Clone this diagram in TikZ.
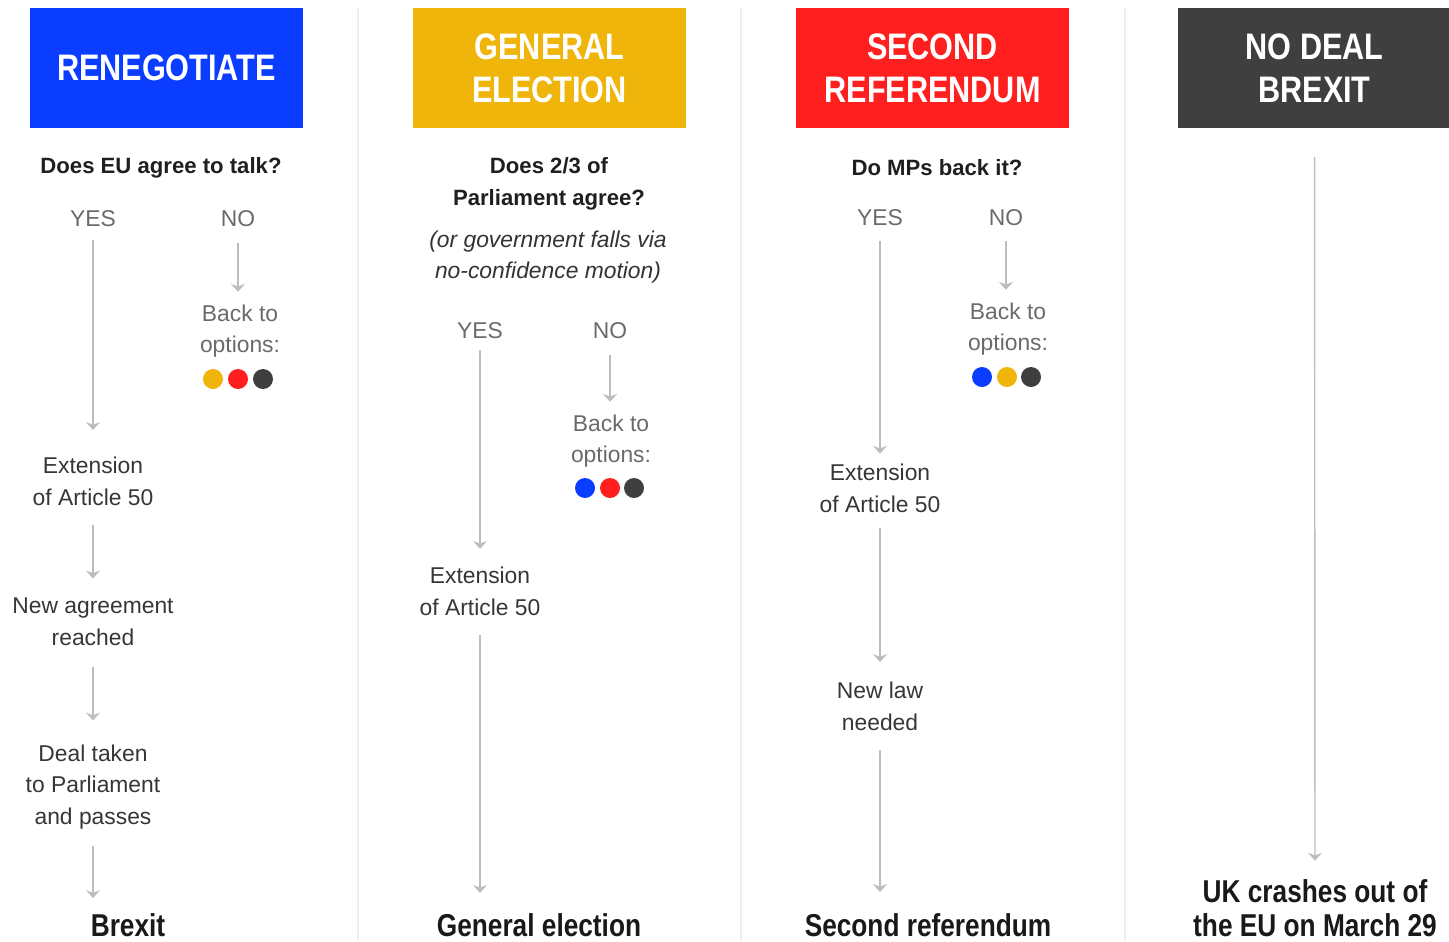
\documentclass[tikz,border=0pt]{standalone}
\usepackage{fontspec}
\setmainfont{Liberation Sans}
\newfontfamily\headfont{Liberation Sans}[FakeStretch=0.83]
\usetikzlibrary{arrows.meta}
\definecolor{cblue}{HTML}{0A3DFF}
\definecolor{cyellow}{HTML}{F0B50A}
\definecolor{cred}{HTML}{FF1F1F}
\definecolor{cdark}{HTML}{3F3F3F}
\definecolor{txtgrey}{HTML}{363636}
\definecolor{softgrey}{HTML}{6A6A6A}
\definecolor{arrgrey}{HTML}{BDBDBD}
\definecolor{sepgrey}{HTML}{EEEEEE}

\begin{document}
\begin{tikzpicture}[x=0.02cm, y=-0.02cm,
    head/.style={minimum width=5.46cm, minimum height=2.42cm, inner sep=0pt, text=white, align=center, font=\headfont\bfseries\fontsize{21}{24.4}\selectfont},
    quest/.style={inner sep=0pt, align=center, text=black!88, font=\bfseries\fontsize{12.6}{18.1}\selectfont},
    note/.style={inner sep=0pt, align=center, text=black!80, font=\itshape\fontsize{13}{18.1}\selectfont},
    answer/.style={inner sep=0pt, text=softgrey, font=\fontsize{13}{18.1}\selectfont},
    back/.style={inner sep=0pt, align=center, text=softgrey, font=\fontsize{13}{18.1}\selectfont},
    stage/.style={inner sep=0pt, align=center, text=txtgrey, font=\fontsize{13}{18.1}\selectfont},
    outcome/.style={inner sep=0pt, align=center, text=black!90, font=\headfont\bfseries\fontsize{18}{19.3}\selectfont},
    dot/.style={circle, inner sep=0pt, minimum size=0.4cm},
    arr/.style={draw=arrgrey, line width=0.8pt, -{Stealth[length=4.5pt,width=8pt,inset=1.5pt]}},
    sep/.style={draw=sepgrey, line width=1.6pt}]
    \useasboundingbox (0,0) rectangle (1449,941);
    \draw[sep] (358,8) -- (358,941);
    \draw[sep] (741,8) -- (741,941);
    \draw[sep] (1125,8) -- (1125,941);

    \node[head, fill=cblue] (hA) at (166.5,68) {RENEGOTIATE};
    \node[quest] (qA) at (161,168) {Does EU agree to talk?};
    \node[answer] (yesA) at (93,219) {YES};
    \node[answer] (noA) at (238,219) {NO};
    \node[back] (backA) at (240,331) {Back to\\options:};
    \node[dot, fill=cyellow] (dA1) at (213,379) {};
    \node[dot, fill=cred] (dA2) at (238,379) {};
    \node[dot, fill=cdark] (dA3) at (263,379) {};
    \node[stage] (extA) at (93,481) {Extension\\of Article 50};
    \node[stage] (agrA) at (93,622) {New agreement\\reached};
    \node[stage] (dealA) at (93,787) {Deal taken\\to Parliament\\and passes};
    \node[outcome] (brexA) at (128,925) {Brexit};
    \draw[arr, shorten <=7pt, shorten >=15pt] (yesA) -- (extA);
    \draw[arr, shorten <=9pt, shorten >=7pt] (noA.south) -- (noA.south |- backA.north);
    \draw[arr, shorten <=11pt, shorten >=11pt] (extA) -- (agrA);
    \draw[arr, shorten <=12pt, shorten >=13.5pt] (agrA) -- (dealA);
    \draw[arr, shorten <=9pt, shorten >=8.5pt] (dealA.south) -- (dealA.south |- brexA.north);

    \node[head, fill=cyellow] (hB) at (549.5,68) {GENERAL\\ELECTION};
    \node[quest] (qB) at (549,184) {Does 2/3 of\\Parliament agree?};
    \node[note] (itB) at (548,257) {(or government falls via\\no-confidence motion)};
    \node[answer] (yesB) at (480,331) {YES};
    \node[answer] (noB) at (610,331) {NO};
    \node[back] (backB) at (611,441) {Back to\\options:};
    \node[dot, fill=cblue] (dB1) at (585,488) {};
    \node[dot, fill=cred] (dB2) at (610,488) {};
    \node[dot, fill=cdark] (dB3) at (634,488) {};
    \node[stage] (extB) at (480,591) {Extension\\of Article 50};
    \node[outcome] (genB) at (539,925) {General election};
    \draw[arr, shorten <=6pt, shorten >=10pt] (yesB) -- (extB);
    \draw[arr, shorten <=9pt, shorten >=7pt] (noB.south) -- (noB.south |- backB.north);
    \draw[arr, shorten <=11pt, shorten >=11.5pt] (extB.south) -- (extB.south |- genB.north);

    \node[head, fill=cred] (hC) at (932.5,68) {SECOND\\REFERENDUM};
    \node[quest] (qC) at (937,168) {Do MPs back it?};
    \node[answer] (yesC) at (880,218) {YES};
    \node[answer] (noC) at (1006,218) {NO};
    \node[back] (backC) at (1008,329) {Back to\\options:};
    \node[dot, fill=cblue] (dC1) at (982,377) {};
    \node[dot, fill=cyellow] (dC2) at (1007,377) {};
    \node[dot, fill=cdark] (dC3) at (1031,377) {};
    \node[stage] (extC) at (880,488) {Extension\\of Article 50};
    \node[stage] (lawC) at (880,706) {New law\\needed};
    \node[outcome] (refC) at (928,925) {Second referendum};
    \draw[arr, shorten <=8pt, shorten >=5.5pt] (yesC) -- (extC);
    \draw[arr, shorten <=8pt, shorten >=7pt] (noC.south) -- (noC.south |- backC.north);
    \draw[arr, shorten <=9pt, shorten >=11pt] (extC) -- (lawC);
    \draw[arr, shorten <=11pt, shorten >=12pt] (lawC.south) -- (lawC.south |- refC.north);

    \node[head, fill=cdark] (hD) at (1314.5,68) {NO DEAL\\BREXIT};
    \node[outcome] (ukD) at (1315,908) {UK crashes out of\\the EU on March 29};
    \draw[arr, shorten <=16pt, shorten >=10.5pt] (hD) -- (ukD);
\end{tikzpicture}
\end{document}
